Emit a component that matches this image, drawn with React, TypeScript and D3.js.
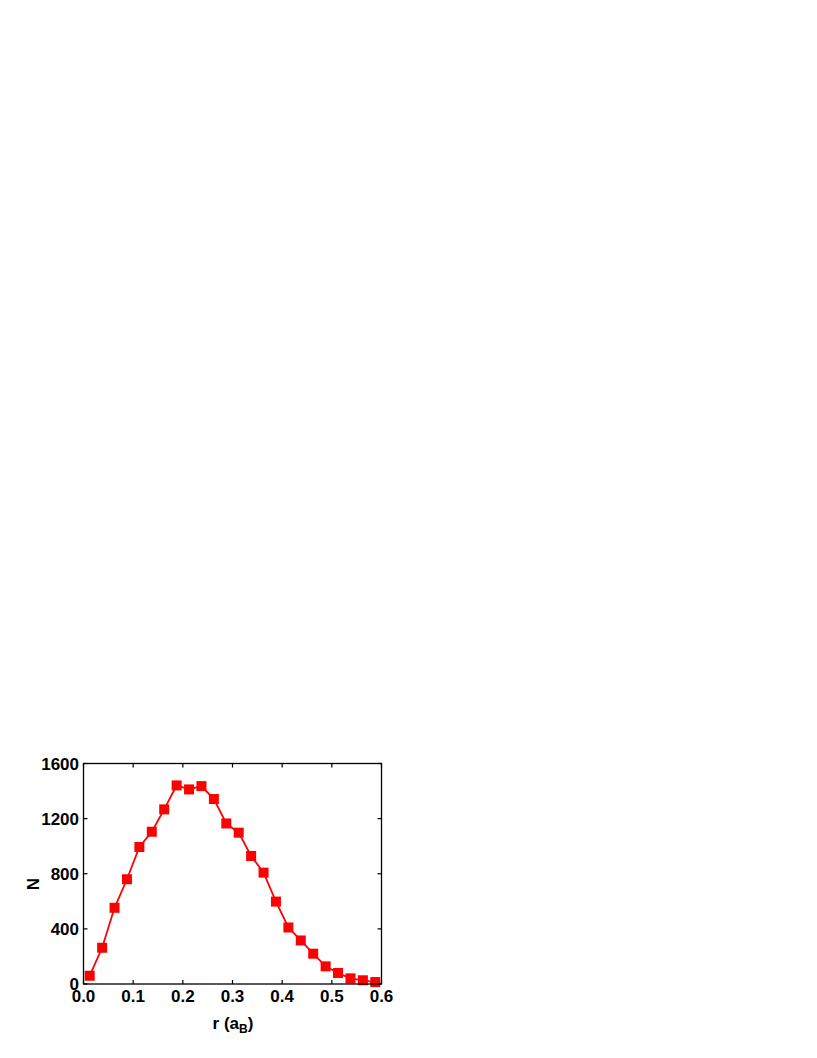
import React from "react";
import * as d3 from "d3";

const rValues = [0.0125, 0.0375, 0.0625, 0.0875, 0.1125, 0.1375, 0.1625, 0.1875, 0.2125, 0.2375, 0.2625, 0.2875, 0.3125, 0.3375, 0.3625, 0.3875, 0.4125, 0.4375, 0.4625, 0.4875, 0.5125, 0.5375, 0.5625, 0.5875];
const nValues = [60, 263, 553, 760, 994, 1105, 1267, 1441, 1412, 1436, 1342, 1165, 1098, 929, 808, 598, 410, 316, 220, 128, 80, 41, 27, 14];
const xTicks = [0, 0.1, 0.2, 0.3, 0.4, 0.5, 0.6];
const yTicks = [0, 400, 800, 1200, 1600];

export default function App() {
  const left = 83.5, right = 381.5, top = 763.5, bottom = 984;
  const x = d3.scaleLinear().domain([0, 0.6]).range([left, right]);
  const y = d3.scaleLinear().domain([0, 1600]).range([bottom, top]);
  const data = rValues.map((r, i) => [r, nValues[i]] as [number, number]);
  const line = d3.line<[number, number]>().x(d => x(d[0])).y(d => y(d[1]));
  const font = "'Liberation Sans', Arial, sans-serif";
  const ms = 10;
  const tl = 4;
  return (
    <svg width={817} height={1058} style={{ position: "absolute", left: 0, top: 0 }}>
      <rect x={0} y={0} width={817} height={1058} fill="#fff" />
      <path d={line(data) || ""} fill="none" stroke="#ff0000" strokeWidth={1.8} />
      {data.map((d, i) => (
        <rect key={i} x={x(d[0]) - ms / 2} y={y(d[1]) - ms / 2} width={ms} height={ms} fill="#ff0000" />
      ))}
      <rect x={left} y={top} width={right - left} height={bottom - top} fill="none" stroke="#000" strokeWidth={1.3} />
      {xTicks.map((t, i) => (
        <g key={"x" + i}>
          <line x1={x(t)} x2={x(t)} y1={bottom} y2={bottom - tl} stroke="#000" strokeWidth={1.2} />
          <line x1={x(t)} x2={x(t)} y1={top} y2={top + tl} stroke="#000" strokeWidth={1.2} />
          <text x={x(t)} y={1002} textAnchor="middle" fontFamily={font} fontWeight="bold" fontSize={17}>{t.toFixed(1)}</text>
        </g>
      ))}
      {yTicks.map((t, i) => (
        <g key={"y" + i}>
          <line x1={left} x2={left + tl} y1={y(t)} y2={y(t)} stroke="#000" strokeWidth={1.2} />
          <line x1={right} x2={right - tl} y1={y(t)} y2={y(t)} stroke="#000" strokeWidth={1.2} />
          <text x={79} y={y(t) + 6} textAnchor="end" fontFamily={font} fontWeight="bold" fontSize={17}>{t}</text>
        </g>
      ))}
      <text x={233} y={1029} textAnchor="middle" fontFamily={font} fontWeight="bold" fontSize={17}>
        r (a<tspan fontSize={12} dy={4}>B</tspan><tspan dy={-4}>)</tspan>
      </text>
      <text transform={`translate(39,884) rotate(-90)`} textAnchor="middle" fontFamily={font} fontWeight="bold" fontSize={17}>N</text>
    </svg>
  );
}
